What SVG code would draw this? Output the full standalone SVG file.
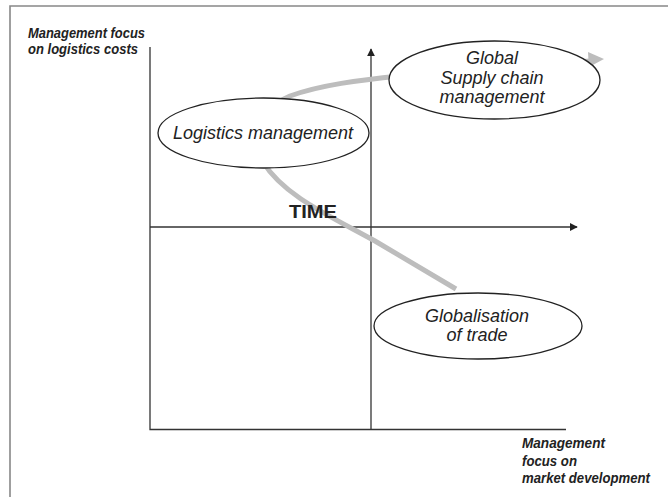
<svg xmlns="http://www.w3.org/2000/svg" width="668" height="497" viewBox="0 0 668 497">
<style>
.lbl{font-family:"Liberation Sans",Arial,sans-serif;font-style:italic;font-size:18px;fill:#222;text-anchor:middle}
.ax{font-family:"Liberation Sans",Arial,sans-serif;font-style:italic;font-weight:bold;font-size:14.5px;fill:#222}
.node{fill:#fff;stroke:#222;stroke-width:1.3}
.axis{stroke:#333;stroke-width:1.3;fill:none}
</style>
<defs>
<marker id="ah" viewBox="0 0 10 10" refX="9" refY="5" markerWidth="8" markerHeight="8" markerUnits="userSpaceOnUse" orient="auto">
<path d="M0,0 L10,5 L0,10 Z" fill="#222"/>
</marker>
</defs>
<rect width="668" height="497" fill="#fff"/>
<g id="frame">
<path d="M10,497 V6 H668" fill="none" stroke="#888" stroke-width="1.6"/>
</g>
<g id="connectors">
<path class="axis" d="M150,47 V429.5 H566"/>
<line class="axis" x1="371" y1="429.5" x2="371" y2="49" marker-end="url(#ah)"/>
<line class="axis" x1="150" y1="227" x2="577" y2="227" marker-end="url(#ah)"/>
<path d="M456,289 L375,241 C330,216 284,196 263,162 C250,140 258,110 290,96 C320,85 360,80 400,76 L590,61" fill="none" stroke="#bdbdbd" stroke-width="5"/>
<polygon points="604,59 588,52 589,67" fill="#bdbdbd"/>
</g>
<text class="ax" x="28" y="38" textLength="117" lengthAdjust="spacingAndGlyphs">Management focus</text>
<text class="ax" x="28" y="54" textLength="110" lengthAdjust="spacingAndGlyphs">on logistics costs</text>
<text x="289" y="218" font-family="'Liberation Sans',Arial,sans-serif" font-weight="bold" font-size="18.5" fill="#222" textLength="48" lengthAdjust="spacingAndGlyphs">TIME</text>
<g id="logistics">
<ellipse class="node" cx="263.5" cy="133" rx="105.5" ry="35"/>
<text class="lbl" x="263" y="139">Logistics management</text>
</g>
<g id="global-scm">
<ellipse class="node" cx="494.5" cy="80" rx="105.5" ry="39"/>
<text class="lbl" x="492" y="64">Global</text>
<text class="lbl" x="492" y="84">Supply chain</text>
<text class="lbl" x="492" y="103">management</text>
</g>
<g id="globalisation">
<ellipse class="node" cx="478" cy="326" rx="104" ry="33"/>
<text class="lbl" x="477" y="322">Globalisation</text>
<text class="lbl" x="477" y="341">of trade</text>
</g>
<text class="ax" x="522" y="448" textLength="83" lengthAdjust="spacingAndGlyphs">Management</text>
<text class="ax" x="522" y="466" textLength="55" lengthAdjust="spacingAndGlyphs">focus on</text>
<text class="ax" x="522" y="483" textLength="128" lengthAdjust="spacingAndGlyphs">market development</text>
</svg>
